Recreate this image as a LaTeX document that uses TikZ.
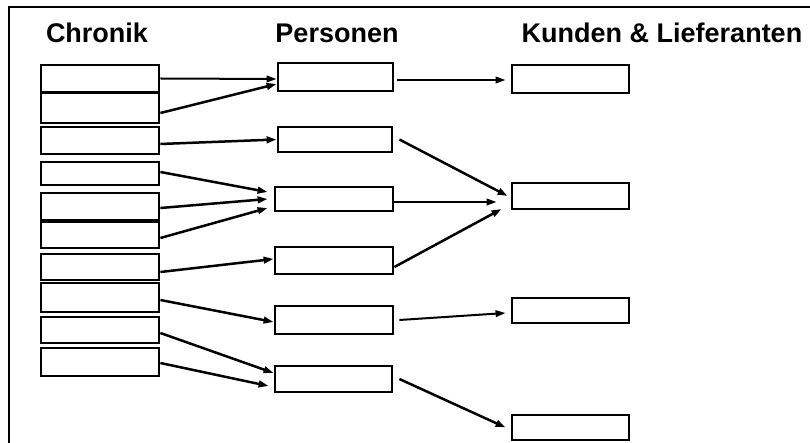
\documentclass[tikz,border=0pt]{standalone}
\usepackage{fontspec}
\setmainfont{Liberation Sans}
\usepackage{tikz}
\usetikzlibrary{arrows.meta, positioning}

\begin{document}
\begin{tikzpicture}[
  x=1pt, y=-1pt,
  box/.style={rectangle, draw, line width=2.8pt, inner sep=0pt,
    minimum width=117pt},
  heading/.style={font=\bfseries\fontsize{27}{32}\selectfont},
  arrow/.style={-{Triangle[length=10pt, width=6.5pt]}, line width=2.5pt},
  flat/.style={line width=2pt}
]
  \useasboundingbox (0,0) rectangle (810,443);
  % frame
  \draw[line width=1.6pt] (9,443) -- (9,7) -- (810,7);

  % headings
  \node[heading] (hchronik) at (97,33) {Chronik};
  \node[heading] (hpersonen) at (337,33) {Personen};
  \node[heading] (hkunden) at (662,33) {Kunden \& Lieferanten};

  % Chronik
  \foreach \n/\y/\h in {1/78.5/27, 2/108/30, 3/140.5/27, 4/173.5/23, 5/206.5/27,
      6/235/26, 7/267/26, 8/297.5/29, 9/330/26, 10/362/28}
    \node[box, minimum width=118pt, minimum height=\h pt] (c\n) at (100,\y) {};

  % Personen
  \node[box, minimum width=115pt, minimum height=28pt] (p1) at (335.5,77) {};
  \node[box, minimum width=114pt, minimum height=25pt] (p2) at (335,139.5) {};
  \node[box, minimum width=118pt, minimum height=24pt] (p3) at (334,199) {};
  \node[box, minimum width=118pt, minimum height=27pt] (p4) at (334,260.5) {};
  \node[box, minimum width=118pt, minimum height=28pt] (p5) at (334,320) {};
  \node[box, minimum width=117pt, minimum height=26pt] (p6) at (333.5,379) {};

  % Kunden & Lieferanten
  \node[box, minimum height=28pt] (k1) at (570.5,79) {};
  \node[box, minimum height=26pt] (k2) at (570.5,196) {};
  \node[box, minimum height=25pt] (k3) at (570.5,310.5) {};
  \node[box, minimum height=25pt] (k4) at (570.5,427.5) {};

  % Chronik -> Personen
  \draw[arrow, flat] (c1.east) -- ([yshift=-2pt]p1.west);
  \draw[arrow] ([yshift=-5pt]c2.east) -- ([yshift=-7pt]p1.west);
  \draw[arrow] ([yshift=-3.5pt]c3.east) -- (p2.west);
  \draw[arrow] ([yshift=1.5pt]c4.east) -- ([xshift=-6pt, yshift=7pt]p3.west);
  \draw[arrow] ([yshift=-1.5pt]c5.east) -- ([xshift=-6pt]p3.west);
  \draw[arrow] ([yshift=-3pt]c6.east) -- ([xshift=-6pt, yshift=-9pt]p3.west);
  \draw[arrow] ([yshift=-5pt]c7.east) -- ([yshift=1.5pt]p4.west);
  \draw[arrow] ([yshift=-2.5pt]c8.east) -- ([yshift=-2pt]p5.west);
  \draw[arrow] ([yshift=-3pt]c9.east) -- ([yshift=6pt]p6.west);
  \draw[arrow] ([yshift=-1pt]c10.east) -- ([xshift=-5pt, yshift=-7pt]p6.west);

  % Personen -> Kunden & Lieferanten
  \draw[arrow, flat] ([xshift=3pt, yshift=-3pt]p1.east) -- ([xshift=-5pt, yshift=-1pt]k1.west);
  \draw[arrow] ([xshift=6pt]p2.east) -- ([xshift=-3pt]k2.west);
  \draw[arrow, flat] ([yshift=-3pt]p3.east) -- ([xshift=-14pt, yshift=-6pt]k2.west);
  \draw[arrow] ([yshift=-6.5pt]p4.east) -- ([xshift=-9pt, yshift=-13pt]k2.west);
  \draw[arrow, flat] ([xshift=5pt]p5.east) -- ([xshift=-5pt, yshift=-2.5pt]k3.west);
  \draw[arrow] ([xshift=6pt]p6.east) -- ([xshift=-5pt]k4.west);
\end{tikzpicture}
\end{document}
